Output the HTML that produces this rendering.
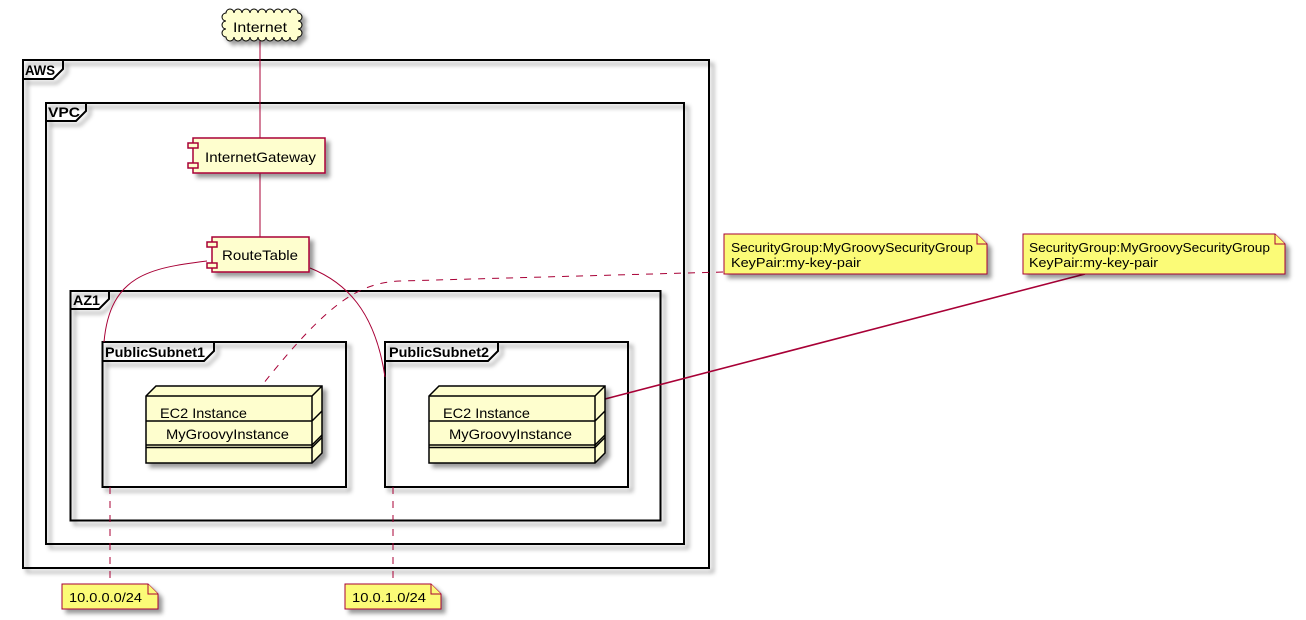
<!DOCTYPE html>
<html><head><meta charset="utf-8"><style>
html,body{margin:0;padding:0;background:#fff;}
svg{display:block;}
text{font-family:"Liberation Sans",sans-serif;}
</style></head><body>
<svg width="1306" height="620" viewBox="0 0 1306 620" xmlns="http://www.w3.org/2000/svg">
<defs>
<filter id="sh" x="-1" y="-1" width="3" height="3">
<feGaussianBlur in="SourceAlpha" stdDeviation="2" result="b"/>
<feColorMatrix in="b" type="matrix" values="0 0 0 0 0 0 0 0 0 0 0 0 0 0 0 0 0 0 0.4 0" result="b2"/>
<feOffset in="b2" dx="4" dy="4" result="b3"/>
<feMerge><feMergeNode in="b3"/><feMergeNode in="SourceGraphic"/></feMerge>
</filter>
</defs>

<!-- Frames -->
<g fill="none" stroke="#000" stroke-width="2" filter="url(#sh)">
<rect x="23" y="60" width="686" height="508"/>
<path d="M23,79 L53,79 L63,69 L63,60"/>
<rect x="46" y="103" width="638" height="441"/>
<path d="M46,121 L76,121 L86,111 L86,103"/>
<rect x="70.5" y="291" width="590" height="229.5"/>
<path d="M70.5,309 L99,309 L109,299 L109,291"/>
<rect x="102.5" y="342" width="243.5" height="145"/>
<path d="M102.5,361 L204,361 L214,351 L214,342"/>
<rect x="385" y="342" width="243" height="145"/>
<path d="M385,361 L488,361 L498,351 L498,342"/>
</g>
<g font-weight="bold" font-size="14" fill="#000">
<text x="25" y="75" textLength="30" lengthAdjust="spacingAndGlyphs">AWS</text>
<text x="48" y="117" textLength="32" lengthAdjust="spacingAndGlyphs">VPC</text>
<text x="73" y="305" textLength="27" lengthAdjust="spacingAndGlyphs">AZ1</text>
<text x="105" y="357" textLength="100" lengthAdjust="spacingAndGlyphs">PublicSubnet1</text>
<text x="389" y="357" textLength="100" lengthAdjust="spacingAndGlyphs">PublicSubnet2</text>
</g>

<!-- Connectors -->
<g fill="none" stroke="#A80036" stroke-width="1">
<line x1="260" y1="41" x2="260" y2="138"/>
<line x1="260" y1="173" x2="260" y2="237"/>
<path d="M207,261 C150,268 110,275 104,342"/>
<path d="M310,268 C345,282 375,310 385,377"/>
<path d="M723,272 L400,281 C360,283 330,300 263,384" stroke-dasharray="7,7"/>
<line x1="110" y1="487" x2="110" y2="584" stroke-dasharray="7,7"/>
<line x1="393" y1="487" x2="393" y2="584" stroke-dasharray="7,7"/>
<line x1="605" y1="399" x2="1085" y2="274" stroke-width="1.6"/>
</g>

<!-- Cloud -->
<path filter="url(#sh)" fill="#FEFECE" stroke="#000" stroke-width="1"
d="M226,13 A4,4 0 0 1 234,13 A4,4 0 0 1 242,13 A4,4 0 0 1 250,13 A4,4 0 0 1 258,13 A4,4 0 0 1 266,13 A4,4 0 0 1 274,13 A4,4 0 0 1 282,13 A4,4 0 0 1 290,13 A4,4 0 0 1 298,13
A4,4 0 0 1 298,21 A4,4 0 0 1 298,29 A4,4 0 0 1 298,37
A4,4 0 0 1 290,37 A4,4 0 0 1 282,37 A4,4 0 0 1 274,37 A4,4 0 0 1 266,37 A4,4 0 0 1 258,37 A4,4 0 0 1 250,37 A4,4 0 0 1 242,37 A4,4 0 0 1 234,37 A4,4 0 0 1 226,37
A4,4 0 0 1 226,29 A4,4 0 0 1 226,21 A4,4 0 0 1 226,13 Z"/>
<text x="233" y="32" font-size="14" textLength="54" lengthAdjust="spacingAndGlyphs">Internet</text>

<!-- Components -->
<g fill="#FEFECE" stroke="#A80036" stroke-width="1.5">
<rect x="193" y="138" width="132" height="35" filter="url(#sh)"/>
<rect x="188" y="143" width="10" height="5"/>
<rect x="188" y="163" width="10" height="5"/>
<rect x="212" y="237" width="97" height="35" filter="url(#sh)"/>
<rect x="207" y="242" width="10" height="5"/>
<rect x="207" y="263" width="10" height="5"/>
</g>
<text x="205" y="162" font-size="14" textLength="111" lengthAdjust="spacingAndGlyphs">InternetGateway</text>
<text x="222" y="260" font-size="14" textLength="76" lengthAdjust="spacingAndGlyphs">RouteTable</text>

<!-- Nodes -->
<g fill="#FEFECE" stroke="#000" stroke-width="1.5">
<path filter="url(#sh)" d="M146,396 L156,386 L322,386 L322,453 L312,463 L146,463 Z"/>
<path fill="none" d="M146,396 L312,396 L322,386 M312,396 L312,463 M146,421 L312,421 L322,411 M146,445 L312,445 L322,435 M146,447.5 L312,447.5 L322,437.5"/>
<path filter="url(#sh)" d="M429,396 L439,386 L605,386 L605,453 L595,463 L429,463 Z"/>
<path fill="none" d="M429,396 L595,396 L605,386 M595,396 L595,463 M429,421 L595,421 L605,411 M429,445 L595,445 L605,435 M429,447.5 L595,447.5 L605,437.5"/>
</g>
<g font-size="14" fill="#000">
<text x="160" y="418" textLength="87" lengthAdjust="spacingAndGlyphs">EC2 Instance</text>
<text x="166" y="439" textLength="123" lengthAdjust="spacingAndGlyphs">MyGroovyInstance</text>
<text x="443" y="418" textLength="87" lengthAdjust="spacingAndGlyphs">EC2 Instance</text>
<text x="449" y="439" textLength="123" lengthAdjust="spacingAndGlyphs">MyGroovyInstance</text>
</g>

<!-- Notes -->
<g fill="#FBFB77" stroke="#A80036" stroke-width="1">
<path filter="url(#sh)" d="M724,234 L977,234 L987,244 L987,274 L724,274 Z"/>
<path d="M977,234 L977,244 L987,244"/>
<path filter="url(#sh)" d="M1023,234 L1275,234 L1285,244 L1285,274 L1023,274 Z"/>
<path d="M1275,234 L1275,244 L1285,244"/>
<path filter="url(#sh)" d="M62,584 L148,584 L158,594 L158,609 L62,609 Z"/>
<path d="M148,584 L148,594 L158,594"/>
<path filter="url(#sh)" d="M345,584 L431,584 L441,594 L441,609 L345,609 Z"/>
<path d="M431,584 L431,594 L441,594"/>
</g>
<g font-size="13" fill="#000">
<text x="731" y="252" textLength="242" lengthAdjust="spacingAndGlyphs">SecurityGroup:MyGroovySecurityGroup</text>
<text x="731" y="267" textLength="130" lengthAdjust="spacingAndGlyphs">KeyPair:my-key-pair</text>
<text x="1029" y="252" textLength="241" lengthAdjust="spacingAndGlyphs">SecurityGroup:MyGroovySecurityGroup</text>
<text x="1029" y="267" textLength="129" lengthAdjust="spacingAndGlyphs">KeyPair:my-key-pair</text>
<text x="69" y="602" textLength="73" lengthAdjust="spacingAndGlyphs">10.0.0.0/24</text>
<text x="352" y="602" textLength="74" lengthAdjust="spacingAndGlyphs">10.0.1.0/24</text>
</g>
</svg>
</body></html>
